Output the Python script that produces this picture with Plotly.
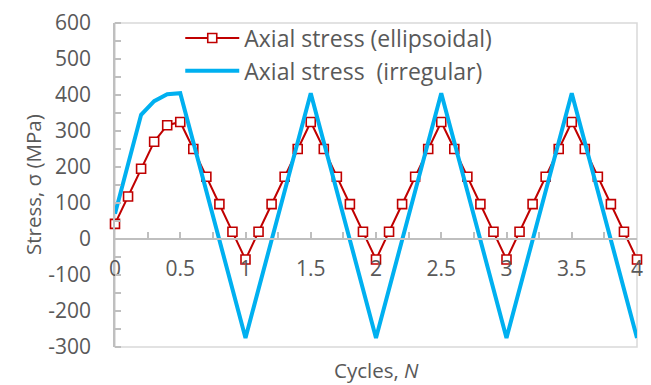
import plotly.graph_objects as go

# ---- data ----
ell_x = [0, 0.1, 0.2, 0.3, 0.4, 0.5, 0.6, 0.7, 0.8, 0.9, 1.0,
         1.1, 1.2, 1.3, 1.4, 1.5, 1.6, 1.7, 1.8, 1.9, 2.0,
         2.1, 2.2, 2.3, 2.4, 2.5, 2.6, 2.7, 2.8, 2.9, 3.0,
         3.1, 3.2, 3.3, 3.4, 3.5, 3.6, 3.7, 3.8, 3.9, 4.0]
ell_y = [42, 118, 195, 270, 316, 325, 250, 173, 97, 20, -57,
         20, 97, 173, 250, 325, 250, 173, 97, 20, -57,
         20, 97, 173, 250, 325, 250, 173, 97, 20, -57,
         20, 97, 173, 250, 325, 250, 173, 97, 20, -57]
irr_x = [0, 0.2, 0.3, 0.4, 0.5, 1.0, 1.5, 2.0, 2.5, 3.0, 3.5, 4.0]
irr_y = [70, 345, 383, 402, 405, -275, 405, -275, 405, -275, 405, -275]

x_tickvals = [0, 0.5, 1, 1.5, 2, 2.5, 3, 3.5, 4]
x_ticktext = ["0", "0.5", "1", "1.5", "2", "2.5", "3", "3.5", "4"]
y_tickvals = [-300, -200, -100, 0, 100, 200, 300, 400, 500, 600]
y_ticktext = ["-300", "-200", "-100", "0", "100", "200", "300", "400", "500", "600"]

name_ell = "Axial stress (ellipsoidal)"
name_irr = "Axial stress\u00a0 (irregular)"

FONT = "Open Sans"
GREY = "#595959"
FS = 21

fig = go.Figure()
fig.add_trace(go.Scatter(
    x=ell_x, y=ell_y, name=name_ell, mode="lines+markers", legendgroup="a",
    line=dict(color="#C00000", width=2),
    marker=dict(symbol="square", size=9, color="white",
                line=dict(color="#C00000", width=1.6)),
    cliponaxis=False,
))
fig.add_trace(go.Scatter(
    x=irr_x, y=irr_y, name=name_irr, mode="lines", legendgroup="b",
    line=dict(color="#00B0F0", width=4),
))

fig.update_layout(
    width=651, height=385,
    margin=dict(l=115, r=8, t=17, b=38),
    paper_bgcolor="white", plot_bgcolor="white",
    font=dict(family=FONT, size=FS, color=GREY),
    showlegend=True,
    legend=dict(x=0.125, y=1.02, xanchor="left", yanchor="top",
                bgcolor="rgba(255,255,255,0)", font=dict(size=23, color=GREY),
                tracegroupgap=0, traceorder="grouped", itemwidth=54),
    xaxis=dict(range=[0, 4], tickvals=x_tickvals, ticktext=x_ticktext,
               anchor="free", position=1/3,
               showline=True, linecolor="#BFBFBF", linewidth=1.5,
               ticks="inside", ticklen=6, tickcolor="#BFBFBF", tickwidth=1.5,
               minor=dict(ticks="inside", dtick=0.25, ticklen=6,
                          tickcolor="#BFBFBF", tickwidth=1.5),
               showgrid=False, zeroline=False,
               tickfont=dict(size=FS, color=GREY), ticklabelstandoff=11),
    yaxis=dict(range=[-300, 600], tickvals=y_tickvals, ticktext=y_ticktext,
               domain=[0, 1],
               showline=True, linecolor="#BFBFBF", linewidth=1.5,
               ticks="", minor=dict(ticks="inside", dtick=50, ticklen=6,
                                    tickcolor="#BFBFBF", tickwidth=1.5),
               showgrid=False, zeroline=False,
               tickfont=dict(size=FS, color=GREY), ticklabelstandoff=18),
    shapes=[dict(type="rect", xref="paper", yref="paper", x0=0, x1=1, y0=0, y1=1,
                 line=dict(color="#D9D9D9", width=1.5), layer="below")],
    annotations=[
        dict(text="Cycles, <i>N</i>", xref="paper", yref="paper", x=0.5, y=-0.072,
             xanchor="center", yanchor="middle", showarrow=False,
             font=dict(size=20.5, color=GREY)),
        dict(text="Stress, σ (MPa)", xref="paper", yref="paper", x=-0.157, y=0.5,
             xanchor="center", yanchor="middle", textangle=-90, showarrow=False,
             font=dict(size=20.5, color=GREY)),
    ],
)

fig.write_html("out.html")
